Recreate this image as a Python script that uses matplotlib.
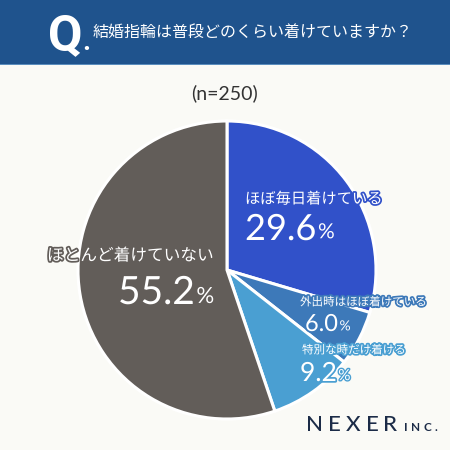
import matplotlib
matplotlib.use("Agg")
import matplotlib.pyplot as plt
import matplotlib.patheffects as pe
from matplotlib.patches import Rectangle

plt.rcParams['font.family'] = ['Noto Sans CJK JP', 'DejaVu Sans']

# ---- data ----
categories = ["ほぼ毎日着けている", "外出時はほぼ着けている", "特別な時だけ着ける", "ほとんど着けていない"]
values = [29.6, 6.0, 9.2, 55.2]
value_labels = ["29.6", "6.0", "9.2", "55.2"]
colors = ["#3151c9", "#3d79b9", "#4a9fd2", "#625d59"]
title = "結婚指輪は普段どのくらい着けていますか？"
sample = "(n=250)"

BG = "#fafaf6"
W = H = 450
fig = plt.figure(figsize=(4.5, 4.5), dpi=100, facecolor=BG)

# header band
hdr = fig.add_axes([0, 0, 1, 1], zorder=0)
hdr.set_xlim(0, W); hdr.set_ylim(H, 0); hdr.axis("off")
hdr.add_patch(Rectangle((0, 0), W, 64, color="#1f538d", lw=0))
hdr.add_patch(Rectangle((0, 63.5), W, 1.8, color="#5a8dbd", lw=0))
hdr.text(48, 50, "Q", color="white", fontsize=36, family=["Roboto", "DejaVu Sans"],
         fontweight="bold", ha="left", va="baseline")
hdr.text(82, 50, ".", color="white", fontsize=20, family=["Roboto", "DejaVu Sans"],
         fontweight="bold", ha="left", va="baseline")
hdr.text(93, 32, title, color="white", fontsize=11.5, ha="left", va="center")
hdr.text(225, 93, sample, color="#333333", fontsize=14, family=["Lato", "DejaVu Sans"],
         ha="center", va="center")

# NEXER logo
for ch, xc in zip("NEXER", [315, 334, 353, 372, 390]):
    hdr.text(xc, 431, ch, color="#1b2b47", fontsize=16,
             family=["Lato", "DejaVu Sans"], fontweight="medium", ha="center", va="baseline")
for ch, xc in zip("INC.", [406, 416, 427, 436]):
    hdr.text(xc, 431, ch, color="#1b2b47", fontsize=8.5,
             family=["Lato", "DejaVu Sans"], fontweight="bold", ha="center", va="baseline")

# pie
cx, cy, r = 227, 270, 149
ax = fig.add_axes([(cx - r) / W, (H - cy - r) / H, 2 * r / W, 2 * r / H], zorder=1)
ax.pie(values, colors=colors, startangle=90, counterclock=False, radius=1,
       wedgeprops=dict(edgecolor="white", linewidth=2.2))
ax.set_xlim(-1, 1); ax.set_ylim(-1, 1); ax.set_aspect("equal"); ax.axis("off")

def P(px, py):
    return ((px - cx) / r, (cy - py) / r)

num_font = ["Lato", "DejaVu Sans"]
# label specs: (cat px, cat py, cat size, num px, num py(baseline), num size, pct size)
specs = [
    (245, 199, 11, 245, 240, 26, 15),
    (300, 302, 8.3, 305, 331, 17, 10),
    (302, 350, 8.3, 300, 381, 19, 11),
    (47, 256, 12, 118, 304, 28, 16),
]
for i, (lx, ly, ls, nxp, nyp, ns, ps) in enumerate(specs):
    sc = colors[i]
    x, y = P(lx, ly)
    ax.text(x, y, categories[i], color="white", fontsize=ls, ha="left", va="center",
            path_effects=[pe.Stroke(linewidth=2.5, foreground=sc), pe.Normal()], zorder=5)
    x, y = P(nxp, nyp)
    t = ax.text(x, y, value_labels[i], color="white", fontsize=ns, family=num_font,
                ha="left", va="baseline",
                path_effects=[pe.Stroke(linewidth=2.5, foreground=sc), pe.Normal()], zorder=5)
    ax.annotate("%", xy=(1, 0), xycoords=t, xytext=(1, ns * 0.2 - ps * 0.2 + 0.5),
                textcoords="offset points", color="white", fontsize=ps, family=num_font,
                ha="left", va="bottom",
                path_effects=[pe.Stroke(linewidth=2, foreground=sc), pe.Normal()], zorder=5)

fig.savefig("out.png", dpi=100, facecolor=BG)
